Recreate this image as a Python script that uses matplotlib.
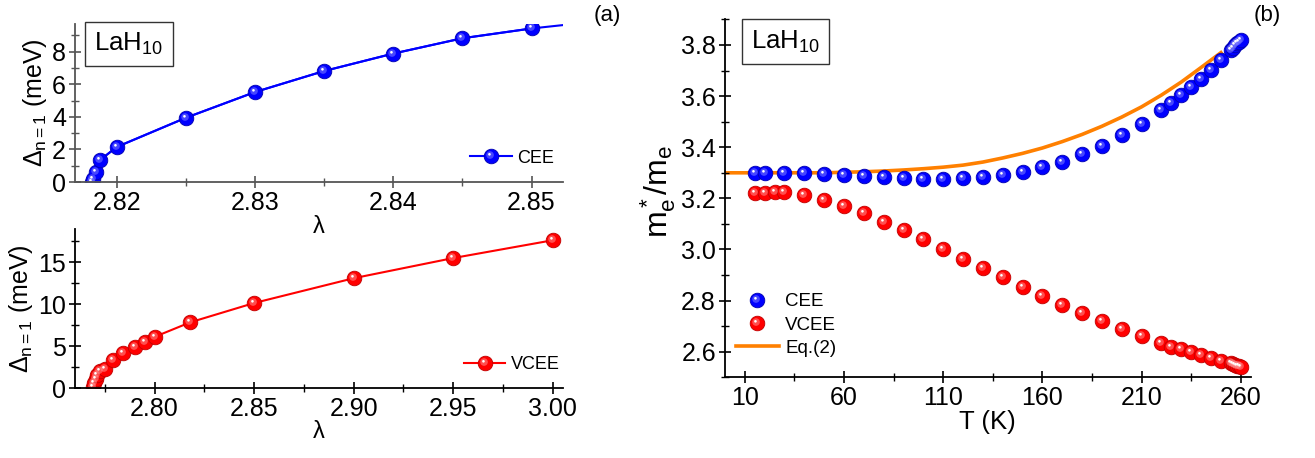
import numpy as np
import matplotlib
matplotlib.use('Agg')
import matplotlib.pyplot as plt
from matplotlib.path import Path
from matplotlib.ticker import MultipleLocator, FixedLocator, FormatStrFormatter
from matplotlib.legend_handler import HandlerTuple

plt.rcParams['font.family'] = ['Liberation Sans', 'DejaVu Sans']
plt.rcParams['mathtext.fontset'] = 'custom'
plt.rcParams['mathtext.rm'] = 'Liberation Sans'
plt.rcParams['mathtext.it'] = 'Liberation Sans:italic'
plt.rcParams['mathtext.bf'] = 'Liberation Sans:bold'

# (a) top: CEE, gap vs lambda
lam_cee = [2.8182, 2.8183, 2.8185, 2.8188, 2.820, 2.825, 2.830, 2.835, 2.840, 2.845, 2.850]
gap_cee = [0.0, 0.2, 0.63, 1.35, 2.15, 3.94, 5.52, 6.81, 7.88, 8.82, 9.42]
# curve continues to the right edge
lam_cee_line = lam_cee + [2.8523]
gap_cee_line = gap_cee + [9.63]

# (a) bottom: VCEE, gap vs lambda
lam_vcee = [2.7690, 2.7697, 2.7705, 2.7713, 2.7725, 2.775, 2.779, 2.784, 2.790, 2.795, 2.800,
            2.818, 2.850, 2.900, 2.950, 3.000]
gap_vcee = [0.1, 0.6, 1.1, 1.6, 2.0, 2.3, 3.35, 4.25, 4.95, 5.5, 6.12,
            7.86, 10.15, 13.1, 15.5, 17.62]

# (b): effective mass vs T
T_cee = [15, 20, 30, 40, 50, 60, 70, 80, 90, 100, 110, 120, 130, 140, 150, 160, 170, 180,
         190, 200, 210, 220, 225, 230, 235, 240, 245, 250, 255, 256, 257, 258, 259, 260]
m_cee = [3.300, 3.300, 3.299, 3.298, 3.295, 3.291, 3.287, 3.284, 3.280, 3.277, 3.276, 3.278,
         3.282, 3.291, 3.304, 3.321, 3.343, 3.372, 3.406, 3.448, 3.491, 3.546, 3.574, 3.604,
         3.634, 3.667, 3.702, 3.741, 3.782, 3.790, 3.798, 3.806, 3.813, 3.820]
T_vcee = [15, 20, 25, 30, 40, 50, 60, 70, 80, 90, 100, 110, 120, 130, 140, 150, 160, 170, 180,
          190, 200, 210, 220, 225, 230, 235, 240, 245, 250, 255, 256, 257, 258, 259, 260]
m_vcee = [3.222, 3.222, 3.225, 3.225, 3.213, 3.194, 3.170, 3.142, 3.109, 3.076, 3.040, 3.003,
          2.964, 2.926, 2.891, 2.854, 2.817, 2.784, 2.752, 2.719, 2.688, 2.660, 2.634, 2.620,
          2.609, 2.600, 2.587, 2.577, 2.565, 2.555, 2.552, 2.549, 2.546, 2.543, 2.540]
T_eq = [0, 30, 50, 60, 70, 80, 90, 100, 110, 120, 130, 140, 150, 160, 170, 180, 190, 200,
        210, 220, 230, 240, 245, 250]
m_eq = [3.300, 3.300, 3.300, 3.302, 3.304, 3.307, 3.311, 3.316, 3.322, 3.330, 3.342, 3.358,
        3.376, 3.397, 3.422, 3.450, 3.482, 3.518, 3.558, 3.604, 3.655, 3.712, 3.741, 3.770]

BLUE = '#0000ff'
RED = '#ff0000'
ORANGE = '#ff8000'


def offset_circle(cx, cy, r):
    c = Path.circle((cx, cy), r)
    verts = np.vstack([c.vertices, [[0.5, 0.5], [-0.5, -0.5]]])
    codes = np.append(c.codes, [Path.MOVETO, Path.MOVETO])
    return Path(verts, codes)


GLOW = offset_circle(-0.1, 0.1, 0.26)
SPOT = offset_circle(-0.14, 0.15, 0.09)


def balls(ax, x, y, color, dark, glow, ms, ls='none', lw=1.5):
    base, = ax.plot(x, y, ls=ls, lw=lw, color=color, marker='o', ms=ms,
                    mfc=color, mec=dark, mew=0.6)
    g, = ax.plot(x, y, ls='none', marker=GLOW, ms=ms, mfc=glow, mec='none', alpha=0.55)
    s, = ax.plot(x, y, ls='none', marker=SPOT, ms=ms, mfc='white', mec='none')
    return (base, g, s)


def style_axes(ax, col):
    ax.patch.set_visible(False)
    for side in ['top', 'right']:
        ax.spines[side].set_visible(False)
    for side in ['left', 'bottom']:
        ax.spines[side].set_color(col)
        ax.spines[side].set_linewidth(1.3)
    ax.tick_params(which='major', direction='inout', length=9, width=1.2, color=col,
                   labelsize=18, pad=2)
    ax.tick_params(which='minor', direction='inout', length=5.5, width=1.0, color=col)


def lah_box(ax, x, y):
    ax.text(x, y, r'LaH$_{10}$', transform=ax.transAxes, fontsize=18.5, va='top', ha='left',
            bbox=dict(boxstyle='square,pad=0.36', fc='white', ec='#333333', lw=1.0))


fig = plt.figure(figsize=(13.15, 4.58), dpi=100)

# ---- top left
ax1 = fig.add_axes([0.0570, 0.6026, 0.3711, 0.3452])
style_axes(ax1, '#555555')
ax1.plot(lam_cee_line, gap_cee_line, color=BLUE, lw=1.5, zorder=1)
h1 = balls(ax1, lam_cee, gap_cee, BLUE, '#0000b0', '#8080ff', 10.5, ls='-')
ax1.set_xlim(2.81698, 2.85227)
ax1.set_ylim(0, 9.7)
ax1.xaxis.set_major_locator(MultipleLocator(0.01))
ax1.xaxis.set_minor_locator(MultipleLocator(0.005))
ax1.yaxis.set_major_locator(MultipleLocator(2))
ax1.yaxis.set_minor_locator(MultipleLocator(1))
ax1.xaxis.set_major_formatter(FormatStrFormatter('%.2f'))
ax1.set_xlabel('λ', fontsize=17, labelpad=1)
ax1.set_ylabel(r'$\Delta_{\mathrm{n=1}}$ (meV)', fontsize=18, labelpad=2)
ax1.legend([h1], ['CEE'], handler_map={tuple: HandlerTuple(ndivide=1)}, loc='lower right',
           frameon=False, fontsize=13, handlelength=2.3, handletextpad=0.3,
           borderaxespad=0.1, bbox_to_anchor=(1.0, 0.04))
lah_box(ax1, 0.04, 0.955)

# ---- bottom left
ax2 = fig.add_axes([0.0570, 0.1522, 0.3711, 0.3485])
style_axes(ax2, 'black')
h2 = balls(ax2, lam_vcee, gap_vcee, RED, '#c00000', '#ff9090', 10.5, ls='-')
ax2.set_xlim(2.760, 3.0052)
ax2.set_ylim(0, 19)
ax2.xaxis.set_major_locator(FixedLocator([2.80, 2.85, 2.90, 2.95, 3.00]))
ax2.xaxis.set_minor_locator(MultipleLocator(0.025))
ax2.yaxis.set_major_locator(MultipleLocator(5))
ax2.yaxis.set_minor_locator(MultipleLocator(2.5))
ax2.xaxis.set_major_formatter(FormatStrFormatter('%.2f'))
ax2.set_xlabel('λ', fontsize=17, labelpad=0)
ax2.set_ylabel(r'$\Delta_{\mathrm{n=1}}$ (meV)', fontsize=18, labelpad=2)
ax2.legend([h2], ['VCEE'], handler_map={tuple: HandlerTuple(ndivide=1)}, loc='lower right',
           frameon=False, fontsize=13, handlelength=2.3, handletextpad=0.3,
           borderaxespad=0.1, bbox_to_anchor=(1.012, 0.04))

fig.text(607 / 1315, 1 - 16 / 458, '(a)', fontsize=16, ha='center', va='center')

# ---- right
ax3 = fig.add_axes([0.5513, 0.1762, 0.3998, 0.7814])
style_axes(ax3, 'black')
leq, = ax3.plot(T_eq, m_eq, color=ORANGE, lw=2.6, zorder=1)
h3 = balls(ax3, T_cee, m_cee, BLUE, '#0000b0', '#8080ff', 10.5)
h4 = balls(ax3, T_vcee, m_vcee, RED, '#c00000', '#ff9090', 10.5)
ax3.set_xlim(0, 265)
ax3.set_ylim(2.5, 3.9)
ax3.xaxis.set_major_locator(FixedLocator([10, 60, 110, 160, 210, 260]))
ax3.xaxis.set_minor_locator(FixedLocator([35, 85, 135, 185, 235]))
ax3.yaxis.set_major_locator(MultipleLocator(0.2))
ax3.yaxis.set_minor_locator(MultipleLocator(0.1))
ax3.yaxis.set_major_formatter(FormatStrFormatter('%.1f'))
ax3.set_xlabel('T (K)', fontsize=18.5, labelpad=0)
ax3.set_ylabel(r'$\mathrm{m^*_e/m_e}$', fontsize=23, labelpad=2)
ax3.yaxis.set_label_coords(-0.09, 0.52)
ax3.legend([h3, h4, leq], ['CEE', 'VCEE', 'Eq.(2)'], handler_map={tuple: HandlerTuple(ndivide=1)},
           loc='lower left', bbox_to_anchor=(-0.012, 0.01), frameon=False, fontsize=13.5,
           handlelength=2.3, handletextpad=0.35, labelspacing=0.33)
lah_box(ax3, 0.05, 0.975)

fig.text(1267 / 1315, 1 - 16 / 458, '(b)', fontsize=16, ha='center', va='center')

fig.savefig('out.png', dpi=100)
